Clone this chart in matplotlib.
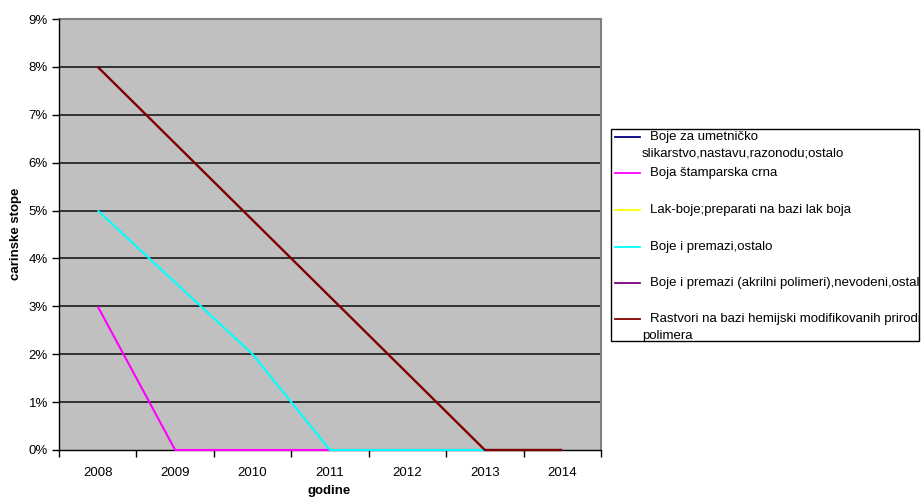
import matplotlib
matplotlib.use("Agg")
import matplotlib.pyplot as plt
from matplotlib.lines import Line2D
from matplotlib.patches import Rectangle

plt.rcParams['font.family'] = ['Liberation Sans', 'DejaVu Sans']

nan = float("nan")
years = ["2008", "2009", "2010", "2011", "2012", "2013", "2014"]
series_names = [
    "Boje za umetničko\nslikarstvo,nastavu,razonodu;ostalo",
    "Boja štamparska crna",
    "Lak-boje;preparati na bazi lak boja",
    "Boje i premazi,ostalo",
    "Boje i premazi (akrilni polimeri),nevodeni,ostalo",
    "Rastvori na bazi hemijski modifikovanih prirodnih\npolimera",
]
# series with no visible values in the chart are left empty
boje_umetnicko = [nan, nan, nan, nan, nan, nan, nan]
boja_stamparska = [3, 0, 0, 0, 0, 0, 0]
lak_boje = [nan, nan, nan, nan, nan, nan, nan]
boje_premazi = [5, 3.5, 2, 0, 0, 0, 0]
akrilni = [nan, nan, nan, nan, nan, nan, nan]
rastvori = [8, 6.4, 4.8, 3.2, 1.6, 0, 0]
colors = ["#000080", "#ff00ff", "#ffff00", "#00ffff", "#800080", "#800000"]
yticks = [0, 1, 2, 3, 4, 5, 6, 7, 8, 9]

FS = 9.5
W, H = 922, 500
fig = plt.figure(figsize=(W / 100, H / 100), dpi=100)
ax = fig.add_axes([59 / W, 1 - 450 / H, (601 - 59) / W, (450 - 19) / H])
ax.set_facecolor("#c0c0c0")

data = [boje_umetnicko, boja_stamparska, lak_boje, boje_premazi, akrilni, rastvori]
xs = list(range(len(years)))
for vals, c in zip(data, colors):
    ax.plot(xs, vals, color=c, lw=1.7 if c == "#800000" else 1.5, solid_capstyle="butt",
            zorder=4, clip_on=False)

ax.set_xlim(-0.5, len(years) - 0.5)
ax.set_ylim(0, 9)
ax.set_yticks(yticks)
ax.set_yticklabels([f"{v}%" for v in yticks], fontsize=FS, color="#000000")
ax.set_xticks(xs)
ax.set_xticklabels(years, fontsize=FS)
ax.set_xticks([x - 0.5 for x in range(len(years) + 1)], minor=True)
ax.tick_params(axis="x", which="major", length=0, pad=12)
ax.tick_params(axis="x", which="minor", length=5, width=1, direction="out")
ax.tick_params(axis="y", length=5, width=1, direction="out", pad=3)
for y in yticks[1:-1]:
    ax.axhline(y, color="#1a1a1a", lw=1.2, zorder=1)

for s in ["left", "bottom"]:
    ax.spines[s].set_color("black")
    ax.spines[s].set_linewidth(1.0)
    ax.spines[s].set_zorder(3)
for s in ["top", "right"]:
    ax.spines[s].set_color("#808080")
    ax.spines[s].set_linewidth(1.5)

fig.text(16 / W, 1 - 234 / H, "carinske stope", rotation=90, fontsize=FS, fontweight="bold",
         ha="center", va="center")
fig.text(329 / W, 1 - 491 / H, "godine", fontsize=FS, fontweight="bold", ha="center", va="center")

# legend box (text is clipped by the box's right edge, as in the reference)
lx0, ly0, lx1, ly1 = 611, 129, 919, 341
rect = Rectangle((lx0 / W, 1 - ly1 / H), (lx1 - lx0) / W, (ly1 - ly0) / H,
                 transform=fig.transFigure, facecolor="white", edgecolor="black", lw=1.0, zorder=5)
fig.add_artist(rect)
entry_y = [137, 173, 210, 247, 283, 319]
for name, c, ey in zip(series_names, colors, entry_y):
    fig.add_artist(Line2D([615 / W, 640 / W], [1 - ey / H, 1 - ey / H], transform=fig.transFigure,
                          color=c, lw=1.3, zorder=6))
    lines = name.split("\n")
    t = fig.text(650 / W, 1 - ey / H, lines[0], fontsize=FS, ha="left", va="center", zorder=6)
    t.set_clip_path(rect)
    if len(lines) > 1:
        t2 = fig.text(642 / W, 1 - (ey + 17) / H, lines[1], fontsize=FS, ha="left", va="center", zorder=6)
        t2.set_clip_path(rect)

fig.savefig("out.png", dpi=100)
